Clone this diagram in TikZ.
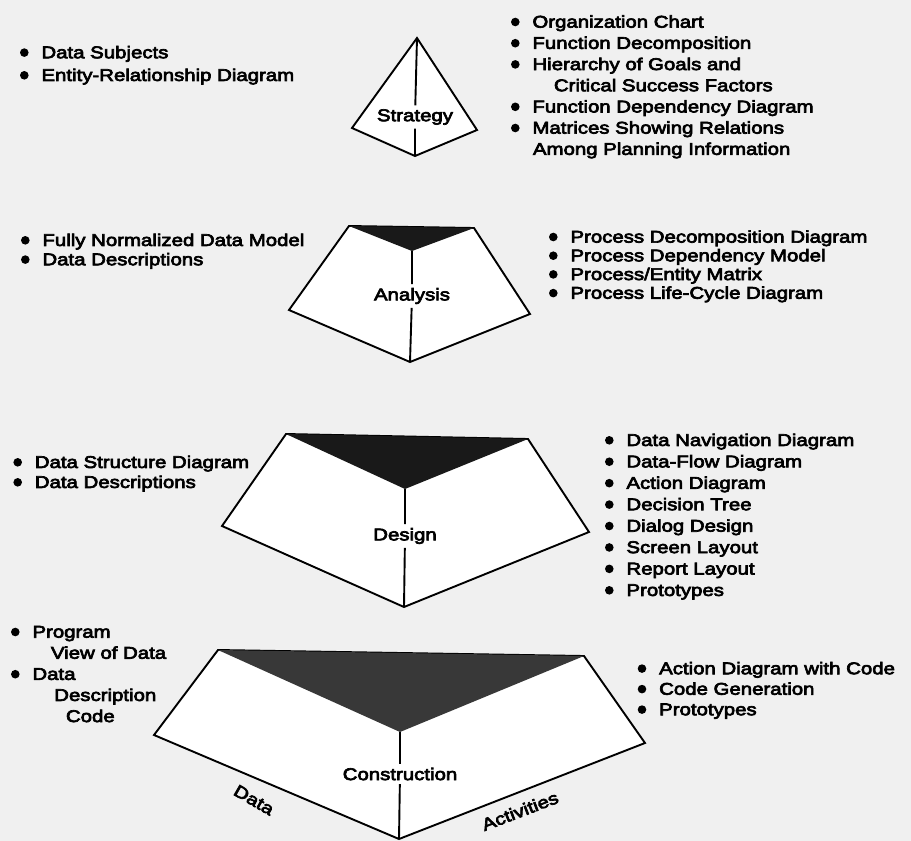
\documentclass[tikz,border=0pt]{standalone}
\usepackage{fontspec}
\setmainfont{Liberation Sans}[FakeStretch=1.2,FakeBold=4]
\newcommand\fs[1]{\fontsize{17pt}{#1pt}\selectfont}
\newcommand\bul{\hspace*{20pt}}
\newcommand\ind[1]{\hspace*{#1pt}}
\newcommand\st{\rule{0pt}{13pt}}
% bullets: node name, line spacing, list of bulleted line numbers
\newcommand\bullets[3]{\foreach \i in {#3}
  {\fill ([shift={(3.8,{8.3+(\i-1)*#2})}]#1.north west) circle[radius=4.3pt];}}
\begin{document}
\begin{tikzpicture}[x=1pt,y=-1pt,line width=1.9pt,line join=miter,
  blk/.style={anchor=north west,inner sep=0pt,align=left},
  lab/.style={inner xsep=2pt,inner ysep=3pt,font=\fs{20}},
  edgelab/.style={inner sep=0pt,font=\fs{20}},
  shell/.style={draw=black,fill=white},
  top/.style={fill=black!90},
  topgrey/.style={fill=black!78}]
\fill[black!6] (0,0) rectangle (911,841);
\useasboundingbox (0,0) rectangle (911,841);

% ---------- Strategy ----------
\coordinate (sA) at (417,38);
\coordinate (sL) at (352,128);
\coordinate (sR) at (477,130);
\coordinate (sB) at (415,156);
\path[shell] (sA) -- (sL) -- (sB) -- (sR) -- cycle;
\node[lab] (sLab) at (415,117) {Strategy};
\draw (sA) -- (sLab) -- (sB);

% ---------- Analysis ----------
\coordinate (aTL) at (349,226);
\coordinate (aTR) at (474,228);
\coordinate (aT) at (412,251);
\coordinate (aL) at (289,310);
\coordinate (aR) at (530,314);
\coordinate (aB) at (410,362);
\path[shell] (aTL) -- (aL) -- (aB) -- (aR) -- (aTR) -- cycle;
\fill[top] (aTL) -- (aTR) -- (aT) -- cycle;
\node[lab] (aLab) at (412,296) {Analysis};
\draw (aT) -- (aLab) -- (aB);

% ---------- Design ----------
\coordinate (dTL) at (286,434);
\coordinate (dTR) at (528,439);
\coordinate (dT) at (405,489);
\coordinate (dL) at (222,526);
\coordinate (dR) at (589,532);
\coordinate (dB) at (404,607);
\path[shell] (dTL) -- (dL) -- (dB) -- (dR) -- (dTR) -- cycle;
\fill[top] (dTL) -- (dTR) -- (dT) -- cycle;
\node[lab] (dLab) at (405,536) {Design};
\draw (dT) -- (dLab) -- (dB);

% ---------- Construction ----------
\coordinate (cTL) at (218,650);
\coordinate (cTR) at (584,656);
\coordinate (cT) at (400,732);
\coordinate (cL) at (154,735);
\coordinate (cR) at (645,743);
\coordinate (cB) at (399,839);
\path[shell] (cTL) -- (cL) -- (cB) -- (cR) -- (cTR) -- cycle;
\fill[topgrey] (cTL) -- (cTR) -- (cT) -- cycle;
\node[lab] (cLab) at (400,774) {Construction};
\draw (cT) -- (cLab) -- (cB);
\node[edgelab,rotate=-30] (dataLab) at (254,800) {Data};
\node[edgelab,rotate=21] (actLab) at (520,811) {Activities};

% ---------- text blocks ----------
\node[blk,font=\fs{22.7}] (tl) at (20.5,44.3)
  {\st\bul Data Subjects\\\bul Entity-Relationship Diagram};
\bullets{tl}{22.7}{1,2}
\node[blk,font=\fs{21.2}] (tr) at (511.5,13.7)
  {\st\bul Organization Chart\\
   \bul Function Decomposition\\
   \bul Hierarchy of Goals and\\
   \ind{41.5}Critical Success Factors\\
   \bul Function Dependency Diagram\\
   \bul Matrices Showing Relations\\
   \ind{20.5}Among Planning Information};
\bullets{tr}{21.2}{1,2,3,5,6}
\node[blk,font=\fs{19.3}] (al) at (21.5,232)
  {\st\bul Fully Normalized Data Model\\\bul Data Descriptions};
\bullets{al}{19.3}{1,2}
\node[blk,font=\fs{18.7}] (ar) at (549.5,228.7)
  {\st\bul Process Decomposition Diagram\\
   \bul Process Dependency Model\\
   \bul Process/Entity Matrix\\
   \bul Process Life-Cycle Diagram};
\bullets{ar}{18.7}{1,2,3,4}
\node[blk,font=\fs{20}] (dl) at (13.9,454)
  {\st\bul Data Structure Diagram\\\bul Data Descriptions};
\bullets{dl}{20}{1,2}
\node[blk,font=\fs{21.43}] (dr) at (605.5,432)
  {\st\bul Data Navigation Diagram\\
   \bul Data-Flow Diagram\\
   \bul Action Diagram\\
   \bul Decision Tree\\
   \bul Dialog Design\\
   \bul Screen Layout\\
   \bul Report Layout\\
   \bul Prototypes};
\bullets{dr}{21.43}{1,...,8}
\node[blk,font=\fs{21.1}] (cl) at (11.5,623.7)
  {\st\bul Program\\
   \ind{38.5}View of Data\\
   \bul Data\\
   \ind{41.8}Description\\
   \ind{53.5}Code};
\bullets{cl}{21.1}{1,3}
\node[blk,font=\fs{20.5}] (cr) at (638.2,660.3)
  {\st\bul Action Diagram with Code\\
   \bul Code Generation\\
   \bul Prototypes};
\bullets{cr}{20.5}{1,2,3}
\end{tikzpicture}
\end{document}
